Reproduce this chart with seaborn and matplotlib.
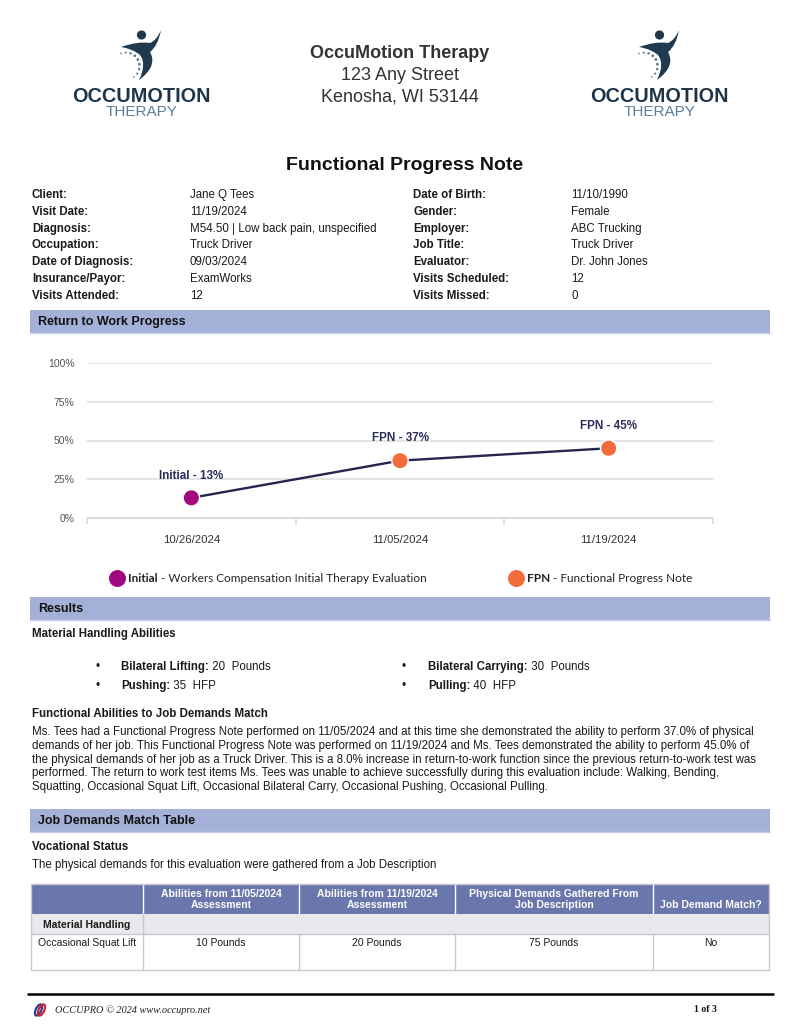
import numpy as np
import pandas as pd
import matplotlib
matplotlib.use("Agg")
import matplotlib.pyplot as plt
import seaborn as sns
from matplotlib.patches import Rectangle, Circle, PathPatch, Ellipse
from matplotlib.path import Path

# ---------------- data ----------------
visit_dates = ["10/26/2024", "11/05/2024", "11/19/2024"]
rtw_percent = [13, 37, 45]
visit_types = ["Initial", "FPN", "FPN"]
y_ticks = [0, 25, 50, 75, 100]
y_tick_labels = ["0%", "25%", "50%", "75%", "100%"]
type_colors = {"Initial": "#a1077e", "FPN": "#f26d3d"}
legend_types = ["Initial", "FPN"]
legend_desc = [" - Workers Compensation Initial Therapy Evaluation", " - Functional Progress Note"]

clinic_lines = ["OccuMotion Therapy", "123 Any Street", "Kenosha, WI 53144"]
doc_title = "Functional Progress Note"

info_left_labels = ["Client:", "Visit Date:", "Diagnosis:", "Occupation:", "Date of Diagnosis:", "Insurance/Payor:", "Visits Attended:"]
info_left_values = ["Jane Q Tees", "11/19/2024", "M54.50 | Low back pain, unspecified", "Truck Driver", "09/03/2024", "ExamWorks", "12"]
info_right_labels = ["Date of Birth:", "Gender:", "Employer:", "Job Title:", "Evaluator:", "Visits Scheduled:", "Visits Missed:"]
info_right_values = ["11/10/1990", "Female", "ABC Trucking", "Truck Driver", "Dr. John Jones", "12", "0"]

section_titles = ["Return to Work Progress", "Results", "Job Demands Match Table"]

ability_names = ["Bilateral Lifting:", "Bilateral Carrying:", "Pushing:", "Pulling:"]
ability_values = ["20", "30", "35", "40"]
ability_units = ["Pounds", "Pounds", "HFP", "HFP"]

paragraph_lines = [
    "Ms. Tees had a Functional Progress Note performed on 11/05/2024 and at this time she demonstrated the ability to perform 37.0% of physical",
    "demands of her job. This Functional Progress Note was performed on 11/19/2024 and Ms. Tees demonstrated the ability to perform 45.0% of",
    "the physical demands of her job as a Truck Driver. This is a 8.0% increase in return-to-work function since the previous return-to-work test was",
    "performed. The return to work test items Ms. Tees was unable to achieve successfully during this evaluation include: Walking, Bending,",
    "Squatting, Occasional Squat Lift, Occasional Bilateral Carry, Occasional Pushing, Occasional Pulling.",
]

table_columns = ["", "Abilities from 11/05/2024\nAssessment", "Abilities from 11/19/2024\nAssessment",
                 "Physical Demands Gathered From\nJob Description", "Job Demand Match?"]
table_group = "Material Handling"
table_row = ["Occasional Squat Lift", "10 Pounds", "20 Pounds", "75 Pounds", "No"]

footer_text = "OCCUPRO \u00a9 2024 www.occupro.net"
page_text = "1 of 3"

# ---------------- setup ----------------
sns.set_theme(style="white")
plt.rcParams["font.family"] = ["Liberation Sans", "DejaVu Sans"]

W, H = 800, 1035
fig = plt.figure(figsize=(W / 100, H / 100), dpi=100)
fig.patch.set_facecolor("white")
page = fig.add_axes([0, 0, 1, 1])
page.set_xlim(0, W)
page.set_ylim(H, 0)
page.axis("off")

TXT = "#1a1a1a"


def pair(x, y, bold, normal, size, family=None, color=TXT):
    kw = {} if family is None else {"family": family}
    t = page.text(x, y, bold, fontsize=size, fontweight="bold", va="center", ha="left", color=color, **kw)
    page.annotate(normal, xy=(1, 0), xycoords=t, va="bottom", ha="left", fontsize=size, color=color, **kw)


# ---------------- logos ----------------
def draw_logo(dx):
    verts = [(121, 47), (138, 41), (150, 43), (157, 40), (161, 30), (158, 46), (150, 52),
             (158, 66), (139, 80), (147, 64), (140, 55), (133, 49), (121, 47)]
    codes = [Path.MOVETO] + [Path.CURVE3] * 12
    verts = [(vx + dx, vy) for vx, vy in verts]
    page.add_patch(PathPatch(Path(verts, codes), fc="#1f3a4e", ec="none"))
    page.add_patch(Circle((141.5 + dx, 35), 4.6, fc="#1f3a4e", ec="none"))
    ang = np.deg2rad(np.linspace(-112, 55, 9))
    for i, a in enumerate(ang):
        r = 0.8 + 0.6 * np.sin(np.pi * i / 8)
        page.add_patch(Circle((126 + dx + 13.5 * np.cos(a), 66 + 13.5 * np.sin(a)), r, fc="#4f7a96", ec="none"))
    page.text(141 + dx, 96, "OCCUMOTION", fontsize=14.3, fontweight="bold", color="#1e3448", ha="center", va="center")
    page.text(141.5 + dx, 112.5, "THERAPY", fontsize=11, color="#5b7f98", ha="center", va="center")


draw_logo(0)
draw_logo(518)

for i, line in enumerate(clinic_lines):
    page.text(400, 53 + 22 * i, line, fontsize=13, fontweight="bold" if i == 0 else "normal",
              color="#333333", ha="center", va="center")

page.text(405, 165, doc_title, fontsize=14, fontweight="bold", color="#111111", ha="center", va="center")

# ---------------- info block ----------------
for i in range(len(info_left_labels)):
    y = 195 + 16.8 * i
    page.text(32, y, info_left_labels[i], fontsize=8.3, fontweight="bold", color=TXT, va="center")
    page.text(190, y, info_left_values[i], fontsize=8.3, color=TXT, va="center")
    page.text(413, y, info_right_labels[i], fontsize=8.3, fontweight="bold", color=TXT, va="center")
    page.text(571, y, info_right_values[i], fontsize=8.3, color=TXT, va="center")

# ---------------- section bars ----------------
for ytop, title in zip([310, 597, 809], section_titles):
    page.add_patch(Rectangle((30, ytop), 740, 23, fc="#a3b0d7", ec="none"))
    page.plot([30, 770], [ytop + 23, ytop + 23], color="#c9d1ea", lw=1)
    page.text(38, ytop + 11.5, title, fontsize=9, fontweight="bold", color="#111111", va="center")

# ---------------- chart ----------------
ax = fig.add_axes([87 / W, 1 - 518 / H, 626 / W, 155 / H])
df = pd.DataFrame({"date": visit_dates, "pct": rtw_percent, "type": visit_types})
sns.lineplot(data=df, x="date", y="pct", color="#25254f", lw=1.7, ax=ax, zorder=2)
sns.scatterplot(data=df, x="date", y="pct", hue="type", palette=type_colors, s=140,
                edgecolor="white", linewidth=1, ax=ax, zorder=3, legend=False, clip_on=False)
ax.set_xlim(-0.5, 2.5)
ax.set_ylim(0, 100)
ax.set_yticks(y_ticks)
ax.set_yticklabels(y_tick_labels)
ax.set_xlabel("")
ax.set_ylabel("")
ax.set_facecolor("none")
ax.yaxis.grid(True, color="#e4e4e4", lw=1.5)
ax.xaxis.grid(False)
ax.set_axisbelow(True)
for s in ["left", "top", "right"]:
    ax.spines[s].set_visible(False)
ax.spines["bottom"].set_color("#dadada")
ax.spines["bottom"].set_linewidth(1.3)
ax.tick_params(axis="y", length=0, pad=9, labelsize=7.5, labelcolor="#555555")
ax.tick_params(axis="x", which="major", length=0, pad=12, labelsize=8.2, labelcolor="#333333")
ax.set_xticks([-0.5, 0.5, 1.5, 2.5], minor=True)
ax.tick_params(axis="x", which="minor", length=4, width=1.2, color="#dadada", direction="out", bottom=True)
for i in range(len(df)):
    ax.annotate(f"{df['type'][i]} - {df['pct'][i]}%", (i, df["pct"][i]), xytext=(0, 16),
                textcoords="offset points", ha="center", va="center", fontsize=8.4,
                fontweight="bold", color="#2b2c5c")

# legend
for lx, t, d in zip([117, 516], legend_types, legend_desc):
    page.scatter([lx], [578], s=125, color=type_colors[t], zorder=3)
    pair(lx + 11, 578, t, d, 8.5, family=["Lato", "DejaVu Sans"], color="#222222")

# ---------------- results ----------------
page.text(32, 634, "Material Handling Abilities", fontsize=8.3, fontweight="bold", color=TXT, va="center")
for i in range(len(ability_names)):
    col, row = i % 2, i // 2
    bx = 95 if col == 0 else 402
    y = 667 + 19 * row
    page.text(bx, y, "\u2022", fontsize=8.3, color=TXT, va="center")
    pair(bx + 26, y, ability_names[i], f" {ability_values[i]}  {ability_units[i]}", 8.3)

page.text(32, 714, "Functional Abilities to Job Demands Match", fontsize=8.3, fontweight="bold", color=TXT, va="center")
for i, line in enumerate(paragraph_lines):
    page.text(32, 732 + 13.8 * i, line, fontsize=8.3, color=TXT, va="center")

page.text(32, 847, "Vocational Status", fontsize=8.3, fontweight="bold", color=TXT, va="center")
page.text(32, 865, "The physical demands for this evaluation were gathered from a Job Description",
          fontsize=8.3, color=TXT, va="center")

# ---------------- table ----------------
cols = [31, 143, 299, 455, 653, 769]
grid_c = "#c8c8cc"
page.add_patch(Rectangle((31, 884), 738, 30, fc="#6a77ac", ec="none"))
page.add_patch(Rectangle((31, 914), 738, 20, fc="#e8e8ed", ec="none"))
for cx in cols[1:-1]:
    page.plot([cx, cx], [884, 914], color="white", lw=1)
page.plot([cols[0], cols[-1]], [884, 884], color=grid_c, lw=1)
page.plot([cols[0], cols[0]], [884, 970], color=grid_c, lw=1)
page.plot([cols[-1], cols[-1]], [884, 970], color=grid_c, lw=1)
page.plot([cols[1], cols[1]], [914, 970], color=grid_c, lw=1)
for cx in cols[2:-1]:
    page.plot([cx, cx], [934, 970], color=grid_c, lw=1)
page.plot([cols[0], cols[-1]], [934, 934], color=grid_c, lw=1)
page.plot([cols[0], cols[-1]], [970, 970], color=grid_c, lw=1)
for j in range(1, 5):
    cx = (cols[j] + cols[j + 1]) / 2
    page.text(cx, 910.5, table_columns[j], fontsize=7.5, fontweight="bold", color="white",
              ha="center", va="bottom", multialignment="center", linespacing=1.15)
page.text((cols[0] + cols[1]) / 2, 924.5, table_group, fontsize=7.5, fontweight="bold", color=TXT, ha="center", va="center")
for j in range(5):
    cx = (cols[j] + cols[j + 1]) / 2
    page.text(cx, 943, table_row[j], fontsize=7.5, color=TXT, ha="center", va="center")

# ---------------- footer ----------------
page.plot([28, 773], [994, 994], color="black", lw=1.8)
page.add_patch(Ellipse((38.5, 1010), 5.5, 12, angle=25, fc="none", ec="#2b3f91", lw=1.6))
page.add_patch(Ellipse((41.5, 1010), 5.5, 12, angle=25, fc="none", ec="#cc2233", lw=1.6))
page.text(55, 1010, footer_text, fontsize=7.4, style="italic", family=["Liberation Serif", "DejaVu Serif"],
          color="#222222", va="center")
page.text(717, 1010, page_text, fontsize=7, fontweight="bold", family=["Liberation Serif", "DejaVu Serif"],
          color="#111111", va="center", ha="right")

fig.savefig("out.png", dpi=100, facecolor="white")
